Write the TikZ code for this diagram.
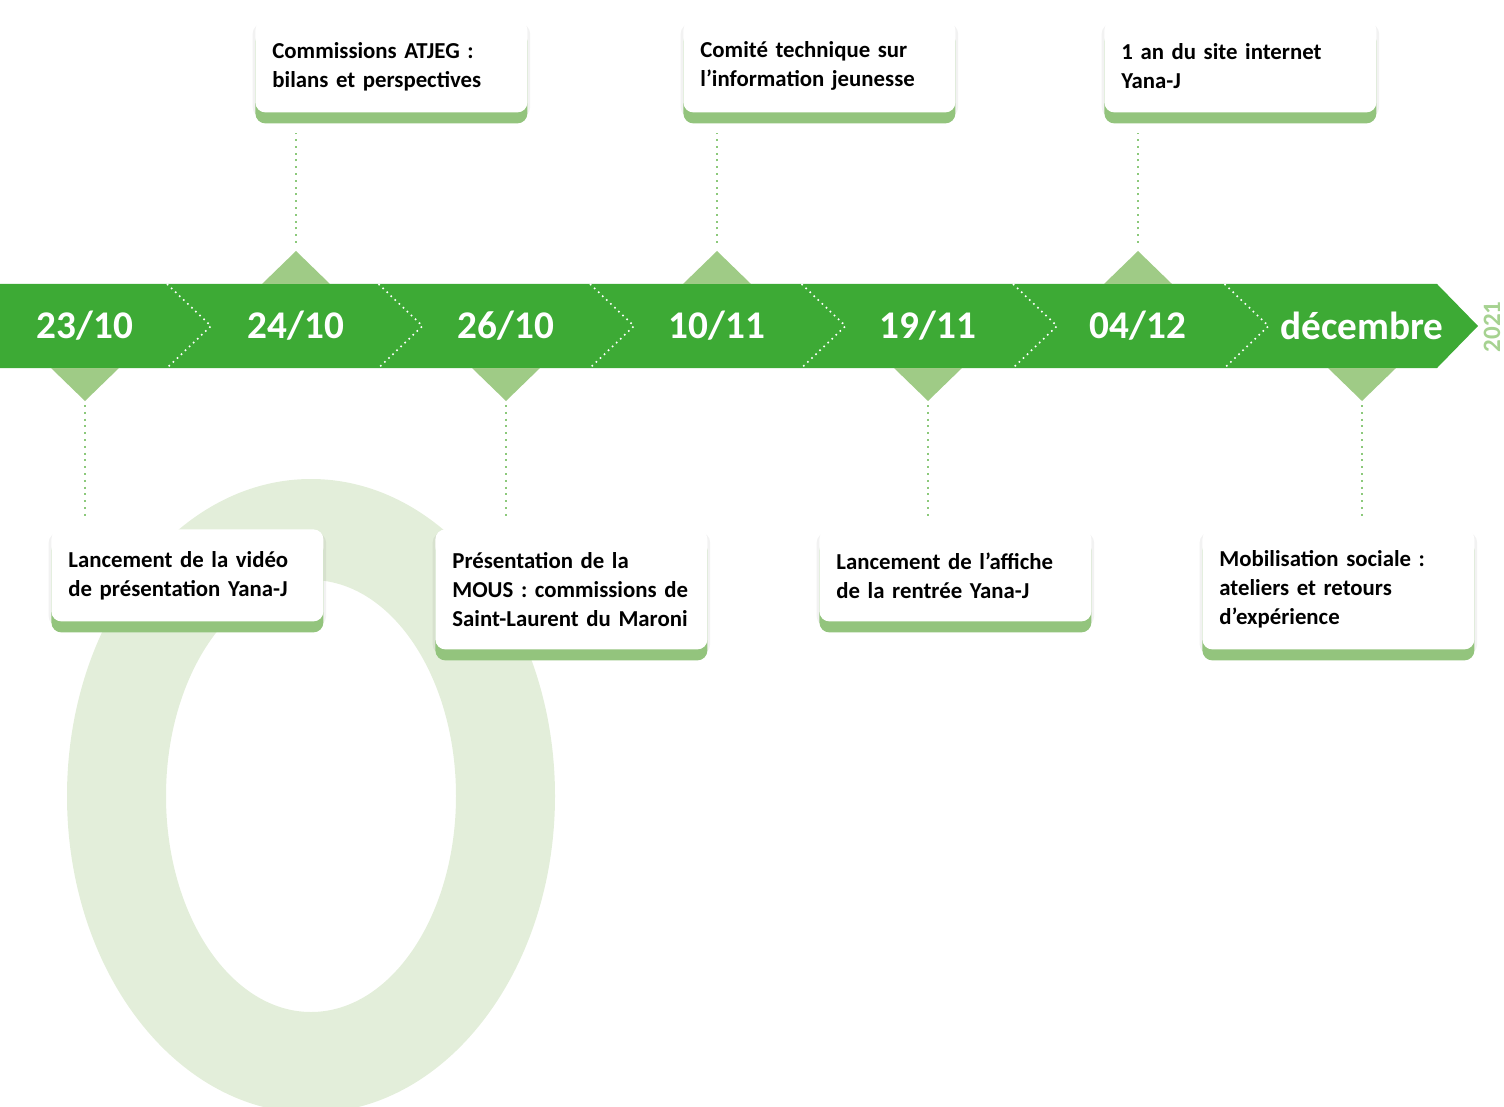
\documentclass[tikz,border=0pt]{standalone}
\usepackage{fontspec}
\setmainfont{Carlito}
\usepackage{tikz}
\usetikzlibrary{shadows}
\definecolor{vertBande}{HTML}{3DAA35}
\definecolor{vertClair}{HTML}{9FCB86}
\definecolor{vertBase}{HTML}{93C47D}
\definecolor{vertFond}{HTML}{E3EEDA}
\definecolor{vertPoint}{HTML}{8CC97B}
\definecolor{vertAnnee}{HTML}{A6D291}

\begin{document}
\begin{tikzpicture}[x=0.5pt,y=-0.5pt,
  date/.style={text=white,font=\fontsize{19.6}{24}\selectfont\bfseries},
  evt/.style={anchor=north west,fill=white,rounded corners=5pt,
    text width=119pt,inner xsep=8.5pt,inner ysep=0pt,align=left,
    minimum height=46pt,font=\fontsize{11.4}{14.5}\selectfont\bfseries,
    general shadow={fill=black,opacity=0.05,shadow scale=1.02,shadow yshift=-2pt},
    general shadow={fill=vertBase,shadow yshift=-5.5pt}},
  evtlong/.style={evt,minimum height=60pt},
  lien/.style={vertPoint,line width=1.2pt,dash pattern=on 1pt off 2.4pt},
  sep/.style={white,line width=0.8pt,dash pattern=on 0.8pt off 2pt}]
\useasboundingbox (0,0) rectangle (1504,1107);
% grand zero en fond
\fill[vertFond,even odd rule] (311,796) ellipse [x radius=244,y radius=317]
  (311,796) ellipse [x radius=145,y radius=216];
% bande des dates
\fill[vertBande] (0,284) -- (1437,284) -- (1478,326) -- (1437,368) -- (0,368) -- cycle;
\foreach \k in {-1,...,5}
  \draw[sep] ({167+211.5*\k},284) -- ++(44,42) -- ++(-44,42);
\foreach \x/\d [count=\i] in {85/{23/10},296/{24/10},506/{26/10},717/{10/11},928/{19/11},1138/{04/12},1362/décembre}
  \node[date] (d\i) at (\x,326) {\d};
\node[text=vertAnnee,rotate=90,font=\fontsize{12.5}{15}\selectfont\bfseries] (an) at (1492,327) {2021};
% reperes au-dessus / au-dessous
\foreach \x/\n in {296/m2,717/m4,1138/m6} {
  \coordinate (\n) at (\x,251);
  \fill[vertClair] (\n) -- ++(-34,33) -- ++(68,0) -- cycle;
}
\foreach \x/\n in {85/m1,506/m3,928/m5,1362/m7} {
  \coordinate (\n) at (\x,401);
  \fill[vertClair] (\n) -- ++(-34,-33) -- ++(68,0) -- cycle;
}
% encadres
\node[evt] (h1) at (255,20) {Commissions ATJEG :\\bilans et perspectives};
\node[evt] (h2) at (683,20) {Comité technique sur\\l’information jeunesse};
\node[evt] (h3) at (1104,20) {1 an du site internet\\Yana-J};
\node[evt] (b1) at (51,529) {Lancement de la vidéo\\de présentation Yana-J};
\node[evtlong] (b2) at (435,529) {Présentation de la\\MOUS : commissions de\\Saint-Laurent du Maroni};
\node[evt] (b3) at (819,529) {Lancement de l’affiche\\de la rentrée Yana-J};
\node[evtlong] (b4) at (1202,529) {Mobilisation sociale :\\ateliers et retours\\d’expérience};
% liens pointilles
\draw[lien,shorten <=4pt,shorten >=10pt] (m2) -- (m2 |- h1.south);
\draw[lien,shorten <=4pt,shorten >=10pt] (m4) -- (m4 |- h2.south);
\draw[lien,shorten <=4pt,shorten >=10pt] (m6) -- (m6 |- h3.south);
\draw[lien,shorten <=2pt,shorten >=5pt] (m1) -- (m1 |- b1.north);
\draw[lien,shorten <=2pt,shorten >=5pt] (m3) -- (m3 |- b2.north);
\draw[lien,shorten <=2pt,shorten >=5pt] (m5) -- (m5 |- b3.north);
\draw[lien,shorten <=2pt,shorten >=5pt] (m7) -- (m7 |- b4.north);
\end{tikzpicture}
\end{document}
